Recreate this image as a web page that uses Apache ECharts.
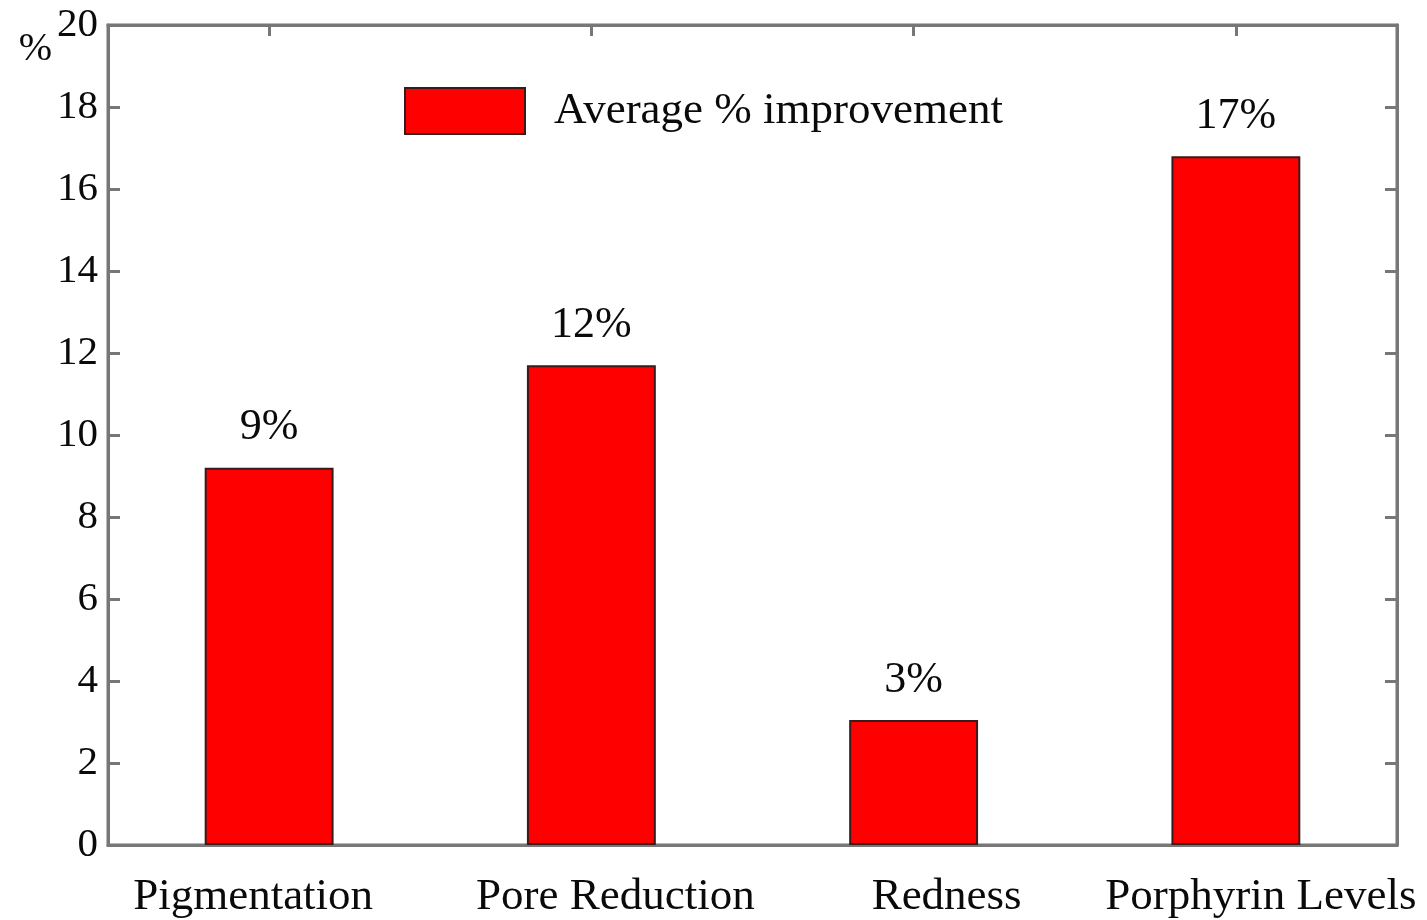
<!DOCTYPE html>
<html>
<head>
<meta charset="utf-8">
<script src="https://cdn.jsdelivr.net/npm/echarts@6/dist/echarts.min.js"></script>
<style>
  html, body { margin: 0; padding: 0; background: #fff; }
  #chart { width: 1427px; height: 920px; }
</style>
</head>
<body>
<div id="chart"></div>
<script>
const categories = ['Pigmentation', 'Pore Reduction', 'Redness', 'Porphyrin Levels']
const improvement = [9.2, 11.7, 3.05, 16.8]
const barLabels = ['9%', '12%', '3%', '17%']
const seriesName = 'Average % improvement'
// the original's category labels sit a little off the bar centres
const labelShift = [-16, 24, 33, 25]

const FONT = '"Liberation Serif", "DejaVu Serif", serif'
const AXIS_COLOR = '#777'
const TEXT_COLOR = '#0a0a0a'

let chart = echarts.init(document.getElementById('chart'), null, { width: 1427, height: 920 })

const categoryData = categories.map((c, i) => {
  let s = labelShift[i]
  return {
    value: c,
    textStyle: { padding: s >= 0 ? [0, 0, 0, 2 * s] : [0, -2 * s, 0, 0] }
  }
})

// hidden twin axes give the inward ticks on the top and right edges
let option = {
  animation: false,
  backgroundColor: '#fff',
  textStyle: { fontFamily: FONT },
  grid: {
    left: 108, right: 30, top: 25, bottom: 75,
    containLabel: false,
    outerBoundsMode: 'none',
    show: true, borderColor: AXIS_COLOR, borderWidth: 3
  },
  legend: {
    left: 399,
    top: 82,
    itemWidth: 120,
    itemHeight: 46,
    icon: 'rect',
    textStyle: { fontFamily: FONT, fontSize: 45, color: TEXT_COLOR, padding: [0, 0, 0, 24] },
    data: [seriesName]
  },
  xAxis: [
    {
      type: 'category',
      position: 'bottom',
      data: categoryData,
      axisLine: { onZero: false, lineStyle: { color: AXIS_COLOR, width: 3 } },
      axisTick: { show: false },
      axisLabel: { interval: 0, hideOverlap: false, fontFamily: FONT, fontSize: 45, color: TEXT_COLOR, margin: 30 }
    },
    {
      type: 'category',
      position: 'top',
      data: categories,
      axisLine: { show: true, onZero: false, lineStyle: { color: AXIS_COLOR, width: 3 } },
      axisTick: { show: true, inside: true, alignWithLabel: true, length: 11, lineStyle: { color: AXIS_COLOR, width: 3 } },
      axisLabel: { show: false }
    }
  ],
  yAxis: [
    {
      type: 'value',
      min: 0,
      max: 20,
      interval: 2,
      name: '%',
      nameLocation: 'end',
      nameGap: -24,
      nameMoveOverlap: false,
      nameTextStyle: { fontFamily: FONT, fontSize: 40, color: TEXT_COLOR, align: 'right', verticalAlign: 'middle', padding: [0, 56, 0, 0] },
      splitLine: { show: false },
      axisLine: { show: true, lineStyle: { color: AXIS_COLOR, width: 3 } },
      axisTick: { show: true, inside: true, length: 12, lineStyle: { color: AXIS_COLOR, width: 3 } },
      axisLabel: { fontFamily: FONT, fontSize: 41, color: TEXT_COLOR, margin: 10 }
    },
    {
      type: 'value',
      position: 'right',
      min: 0,
      max: 20,
      interval: 2,
      splitLine: { show: false },
      axisLine: { show: true, lineStyle: { color: AXIS_COLOR, width: 3 } },
      axisTick: { show: true, inside: true, length: 12, lineStyle: { color: AXIS_COLOR, width: 3 } },
      axisLabel: { show: false }
    }
  ],
  series: [
    {
      name: seriesName,
      type: 'bar',
      barWidth: '40%',
      data: improvement,
      itemStyle: { color: '#ff0000', borderColor: '#3a1a1a', borderWidth: 2 },
      label: {
        show: true,
        position: 'top',
        distance: 18,
        fontFamily: FONT,
        fontSize: 44,
        color: TEXT_COLOR,
        formatter: p => barLabels[p.dataIndex]
      }
    }
  ]
}

chart.setOption(option, true)
</script>
</body>
</html>
